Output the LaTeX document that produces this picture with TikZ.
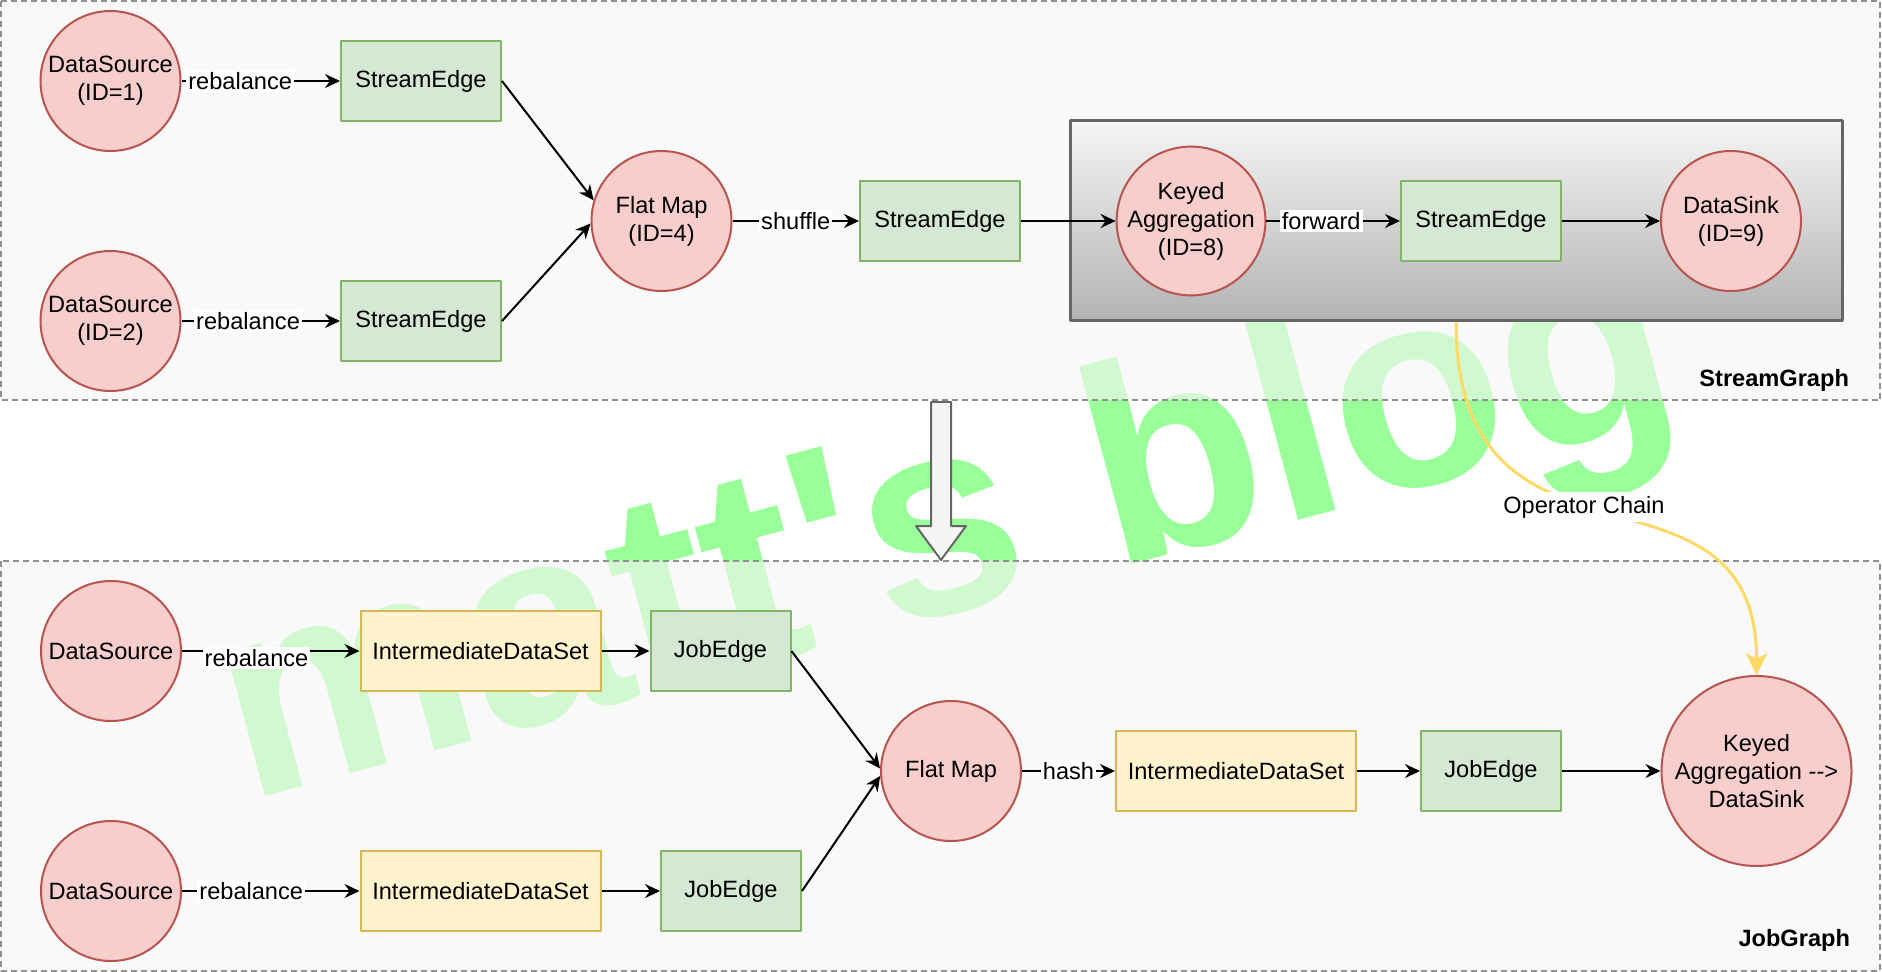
\documentclass[tikz,border=0pt]{standalone}
\usepackage{fontspec}
\setmainfont{Liberation Sans}
\usetikzlibrary{arrows.meta}
\definecolor{opfill}{HTML}{F8CECC}
\definecolor{opline}{HTML}{B85450}
\definecolor{edfill}{HTML}{D5E8D4}
\definecolor{edline}{HTML}{82B366}
\definecolor{dsfill}{HTML}{FFF2CC}
\definecolor{dsline}{HTML}{D6B656}
\definecolor{boxfill}{HTML}{F5F5F5}
\definecolor{boxline}{HTML}{666666}
\definecolor{shadelo}{HTML}{B3B3B3}
\definecolor{dashline}{HTML}{909090}
\definecolor{chainline}{HTML}{FFD966}
\definecolor{wmgreen}{HTML}{99FF99}
\begin{document}
\begin{tikzpicture}[x=0.5pt, y=-0.5pt, font=\fontsize{11.8pt}{14pt}\selectfont, line join=round,
		>={Stealth[length=7.5pt,width=7pt,inset=2.5pt]},
		op/.style={circle, draw=opline, fill=opfill, line width=1pt, minimum size=70pt, inner sep=0pt, align=center},
		sedge/.style={draw=edline, fill=edfill, line width=1pt, minimum width=80pt, minimum height=40pt},
		jedge/.style={sedge, minimum width=70pt},
		dset/.style={draw=dsline, fill=dsfill, line width=1pt, minimum width=120pt, minimum height=40pt},
		lbl/.style={fill=white, text=black, inner sep=1pt},
		flow/.style={->, line width=1pt},
		gname/.style={font=\fontsize{11.8pt}{14pt}\selectfont\bfseries, anchor=east},
		group/.style={draw=dashline, line width=1pt, dash pattern=on 3pt off 2pt, fill=boxfill, fill opacity=0.6}]
		\useasboundingbox (0,0) rectangle (1882,972);
		% watermark, under everything
		\node[rotate=15, anchor=base west, inner sep=0pt, text=wmgreen, font=\fontsize{141pt}{141pt}\selectfont\bfseries] (wm) at (246,802) {matt\textquotesingle s blog};
		\draw[group] (1,1.5) rectangle (1880,400.5);
		\draw[group] (1,561) rectangle (1880,971);
		\node[draw=boxline, line width=1.5pt, top color=boxfill, bottom color=shadelo, minimum width=386pt, minimum height=100pt] (chain) at (1456,221) {};
		\node[gname] (sglbl) at (1856,380) {StreamGraph};
		\node[gname] (jglbl) at (1857,940) {JobGraph};
		\draw[draw=boxline, fill=boxfill, line width=1pt] (931,402) -- (951,402) -- (951,526) -- (966,526) -- (941,560) -- (916,526) -- (931,526) -- cycle;
		% StreamGraph
		\node[op] (src1) at (110.5,81) {DataSource\\(ID=1)};
		\node[op] (src2) at (110.5,321) {DataSource\\(ID=2)};
		\node[sedge] (se1) at (421,81) {StreamEdge};
		\node[sedge] (se2) at (421,321) {StreamEdge};
		\node[op] (fm1) at (661.5,221) {Flat Map\\(ID=4)};
		\node[sedge] (se3) at (940,221) {StreamEdge};
		\node[op] (agg) at (1191,221) {Keyed\\Aggregation\\(ID=8)};
		\node[sedge] (se4) at (1481,221) {StreamEdge};
		\node[op] (sink) at (1731,221) {DataSink\\(ID=9)};
		\draw[flow] (src1) -- node[lbl, pos=.37] {rebalance} (se1);
		\draw[flow] (src2) -- node[lbl, pos=.42] {rebalance} (se2);
		\draw[flow] (se1.east) -- (fm1.163);
		\draw[flow] (se2.east) -- (fm1.182);
		\draw[flow] (fm1) -- node[lbl, pos=.5] {shuffle} (se3);
		\draw[flow] (se3) -- (agg);
		\draw[flow] (agg) -- node[lbl, pos=.41] {forward} (se4);
		\draw[flow] (se4) -- (sink);
		% JobGraph
		\node[op] (src3) at (111,651) {DataSource};
		\node[op] (src4) at (111,891) {DataSource};
		\node[dset] (ds1) at (480.5,651) {IntermediateDataSet};
		\node[dset] (ds2) at (480.5,891) {IntermediateDataSet};
		\node[jedge] (je1) at (720.5,651) {JobEdge};
		\node[jedge] (je2) at (731,891) {JobEdge};
		\node[op] (fm2) at (951,771) {Flat Map};
		\node[dset] (ds3) at (1236,771) {IntermediateDataSet};
		\node[jedge] (je3) at (1491,771) {JobEdge};
		\node[op, minimum size=95pt] (aggsink) at (1756.5,771) {Keyed\\Aggregation -{}->\\DataSink};
		\draw[flow] (src3) -- node[lbl, pos=.42, yshift=-3.5pt] {rebalance} (ds1);
		\draw[flow] (src4) -- node[lbl, pos=.39] {rebalance} (ds2);
		\draw[flow] (ds1) -- (je1);
		\draw[flow] (ds2) -- (je2);
		\draw[flow] (je1.east) -- (fm2.178);
		\draw[flow] (je2.east) -- (fm2.184);
		\draw[flow] (fm2) -- node[lbl, pos=.5] {hash} (ds3);
		\draw[flow] (ds3) -- (je3);
		\draw[flow] (je3) -- (aggsink);
		\draw[chainline, line width=1.5pt, -{Stealth[length=11pt,width=11pt,inset=3pt]}] (chain.south) .. controls (1456,600) and (1757,440) .. node[lbl, pos=.45, inner sep=2pt] (oplbl) {Operator Chain} (aggsink.north);
\end{tikzpicture}
\end{document}
